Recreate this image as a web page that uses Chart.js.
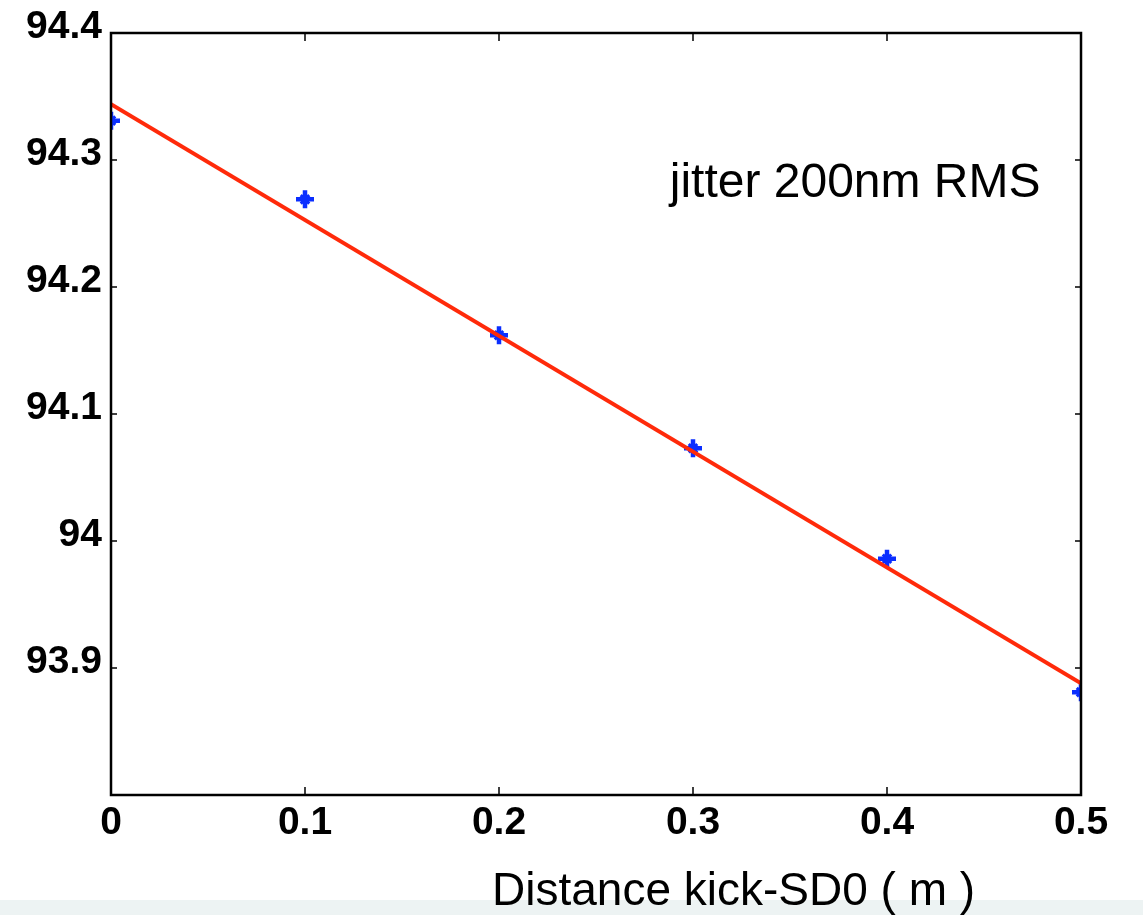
<!DOCTYPE html>
<html>
<head>
<meta charset="utf-8">
<script src="https://cdn.jsdelivr.net/npm/chart.js@4.4.0/dist/chart.umd.min.js"></script>
<style>
  html, body { margin: 0; padding: 0; background: #fff; }
  #wrap { width: 1143px; height: 915px; position: relative; }
</style>
</head>
<body>
<div id="wrap"><canvas id="c" width="1143" height="915"></canvas></div>
<script>
// measured points
const distances = [0, 0.1, 0.2, 0.3, 0.4, 0.5];
const values = [94.331, 94.269, 94.162, 94.073, 93.986, 93.881];
// linear fit drawn across the range
const fitX = [0, 0.5];
const fitY = [94.344, 93.888];
const xTicks = [0, 0.1, 0.2, 0.3, 0.4, 0.5];
const yTicks = [93.8, 93.9, 94, 94.1, 94.2, 94.3, 94.4];
const xTitle = 'Distance kick-SD0 ( m )';
const note = 'jitter 200nm RMS';

const points = distances.map((v, i) => ({ x: v, y: values[i] }));
const tickFont = { family: '"Liberation Sans", Arial, sans-serif', size: 39, weight: 'bold' };

const boxPlugin = {
  id: 'box',
  beforeDraw(chart) {
    const ctx = chart.ctx;
    ctx.save();
    ctx.fillStyle = '#edf3f3';
    ctx.fillRect(0, 900, chart.width, chart.height - 900);
    ctx.restore();
  },
  afterDatasetsDraw(chart) {
    const { ctx, chartArea: a, scales: { x, y } } = chart;
    ctx.save();
    ctx.strokeStyle = '#000';
    ctx.lineWidth = 2.5;
    ctx.strokeRect(a.left, a.top, a.right - a.left, a.bottom - a.top);
    // inward ticks on all four sides
    ctx.lineWidth = 1.5;
    ctx.beginPath();
    xTicks.forEach(v => {
      const px = x.getPixelForValue(v);
      ctx.moveTo(px, a.bottom); ctx.lineTo(px, a.bottom - 8);
      ctx.moveTo(px, a.top); ctx.lineTo(px, a.top + 8);
    });
    yTicks.forEach(v => {
      const py = y.getPixelForValue(v);
      ctx.moveTo(a.left, py); ctx.lineTo(a.left + 6, py);
      ctx.moveTo(a.right, py); ctx.lineTo(a.right - 6, py);
    });
    ctx.stroke();

    ctx.fillStyle = '#000';
    ctx.textBaseline = 'alphabetic';
    ctx.textAlign = 'left';
    ctx.font = '48px "Liberation Sans", Arial, sans-serif';
    ctx.fillText(note, x.getPixelForValue(0.288), y.getPixelForValue(94.271));
    ctx.font = '46px "Liberation Sans", Arial, sans-serif';
    ctx.fillText(xTitle, 492, 905);
    ctx.restore();
  }
};

new Chart(document.getElementById('c'), {
  type: 'scatter',
  data: {
    datasets: [
      {
        label: 'fit',
        data: fitX.map((v, i) => ({ x: v, y: fitY[i] })),
        showLine: true,
        borderColor: '#ff2a0a',
        borderWidth: 4,
        pointRadius: 0,
        clip: 0
      },
      {
        label: 'data',
        data: points,
        pointStyle: 'cross',
        pointRadius: 9,
        borderColor: '#0a2eff',
        backgroundColor: '#0a2eff',
        pointBorderWidth: 4.5,
        clip: 0
      },
      {
        label: 'data-diag',
        data: points,
        pointStyle: 'crossRot',
        pointRadius: 6,
        borderColor: '#0a2eff',
        backgroundColor: '#0a2eff',
        pointBorderWidth: 3,
        clip: 0
      }
    ]
  },
  options: {
    responsive: false,
    animation: false,
    layout: { padding: { left: 0, right: 62, top: 33, bottom: 0 } },
    plugins: { legend: { display: false }, tooltip: { enabled: false } },
    scales: {
      x: {
        type: 'linear',
        min: 0,
        max: 0.5,
        afterBuildTicks: s => { s.ticks = xTicks.map(v => ({ value: v })); },
        afterFit: s => { s.height = 120; },
        grid: { display: false },
        border: { display: false },
        ticks: {
          padding: -3,
          color: '#000',
          font: tickFont,
          callback: v => String(Number(v.toFixed(1)))
        }
      },
      y: {
        type: 'linear',
        min: 93.8,
        max: 94.4,
        afterBuildTicks: s => { s.ticks = yTicks.map(v => ({ value: v })); },
        afterFit: s => { s.width = 111; },
        grid: { display: false },
        border: { display: false },
        ticks: {
          padding: 1,
          labelOffset: -6,
          color: '#000',
          font: tickFont,
          callback: v => (Math.abs(v - 93.8) < 1e-6 ? '' : String(Number(v.toFixed(1))))
        }
      }
    }
  },
  plugins: [boxPlugin]
});
</script>
</body>
</html>
